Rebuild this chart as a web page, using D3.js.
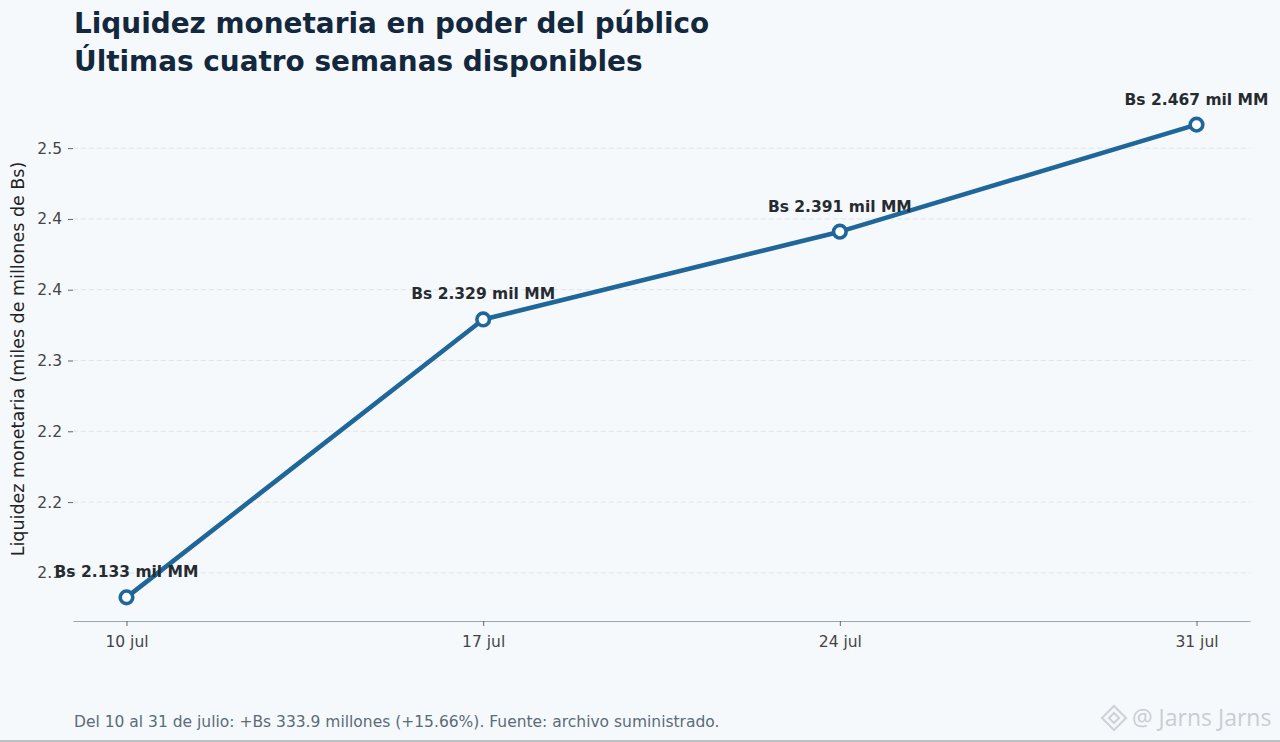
<!DOCTYPE html>
<html>
<head>
<meta charset="utf-8">
<script src="https://cdn.jsdelivr.net/npm/d3@7"></script>
<style>
  html, body { margin: 0; padding: 0; background: #f6f9fc; }
  svg { display: block; font-family: "DejaVu Sans", sans-serif; }
</style>
</head>
<body>
<svg id="chart" width="1280" height="742"></svg>
<script>
// weekly values, miles de millones de Bs
var days = [10, 17, 24, 31],
    dayLabels = ['10 jul', '17 jul', '24 jul', '31 jul'],
    values = [2.1327, 2.329, 2.391, 2.4666],
    pointLabels = ['Bs 2.133 mil MM', 'Bs 2.329 mil MM', 'Bs 2.391 mil MM', 'Bs 2.467 mil MM'],
    yTicks = [2.15, 2.20, 2.25, 2.30, 2.35, 2.40, 2.45],
    yTickLabels = ['2.1', '2.2', '2.2', '2.3', '2.4', '2.4', '2.5'];

var titleLines = ['Liquidez monetaria en poder del público', 'Últimas cuatro semanas disponibles'],
    yTitle = 'Liquidez monetaria (miles de millones de Bs)',
    footer = 'Del 10 al 31 de julio: +Bs 333.9 millones (+15.66%). Fuente: archivo suministrado.';

var svg = d3.select('#chart'),
    plotLeft = 73, plotRight = 1250, plotTop = 101, plotBottom = 621,
    lineColor = '#1f6699';

svg.append('rect').attr('width', 1280).attr('height', 742).attr('fill', '#f6f9fc');

// matplotlib-like 5% margins
var xPad = (d3.max(days) - d3.min(days)) * 0.05,
    yPad = (d3.max(values) - d3.min(values)) * 0.05;

var x = d3.scaleLinear()
    .domain([d3.min(days) - xPad, d3.max(days) + xPad])
    .range([plotLeft, plotRight]);

var y = d3.scaleLinear()
    .domain([d3.min(values) - yPad, d3.max(values) + yPad])
    .range([plotBottom, plotTop]);

// title
svg.append('g').selectAll('text')
    .data(titleLines)
  .enter().append('text')
    .attr('x', 74)
    .attr('y', function(d, i) { return 33 + i * 38; })
    .attr('fill', '#13283c')
    .attr('font-size', 27.9)
    .attr('font-weight', 'bold')
    .text(function(d) { return d; });

// grid
svg.append('g').selectAll('line')
    .data(yTicks)
  .enter().append('line')
    .attr('x1', plotLeft).attr('x2', plotRight)
    .attr('y1', y).attr('y2', y)
    .attr('stroke', '#dce2e9')
    .attr('stroke-width', 0.9)
    .attr('stroke-dasharray', '5,3');

// y axis (no spine)
var yAxis = svg.append('g')
    .attr('transform', 'translate(' + plotLeft + ',0)')
    .call(d3.axisLeft(y).tickValues(yTicks)
      .tickFormat(function(d, i) { return yTickLabels[i]; })
      .tickSize(5).tickPadding(6));
yAxis.attr('font-size', 15.5).attr('font-family', '"DejaVu Sans", sans-serif');
yAxis.select('.domain').remove();
yAxis.selectAll('line').attr('stroke', '#555').attr('stroke-width', 0.9);
yAxis.selectAll('text').attr('fill', '#444');

// x axis
var xAxis = svg.append('g')
    .attr('transform', 'translate(0,' + plotBottom + ')')
    .call(d3.axisBottom(x).tickValues(days)
      .tickFormat(function(d, i) { return dayLabels[i]; })
      .tickSize(5).tickSizeOuter(0).tickPadding(10));
xAxis.attr('font-size', 15.5).attr('font-family', '"DejaVu Sans", sans-serif');
xAxis.select('.domain').attr('stroke', '#9aa6b2').attr('stroke-width', 1.1);
xAxis.selectAll('line').attr('stroke', '#555').attr('stroke-width', 0.9);
xAxis.selectAll('text').attr('fill', '#444');

// y title
svg.append('text')
    .attr('transform', 'translate(24,' + ((plotTop + plotBottom) / 2 - 2) + ') rotate(-90)')
    .attr('text-anchor', 'middle')
    .attr('fill', '#222')
    .attr('font-size', 17.5)
    .text(yTitle);

var pts = days.map(function(d, i) { return {day: d, value: values[i], label: pointLabels[i]}; });

var line = d3.line()
    .x(function(d) { return x(d.day); })
    .y(function(d) { return y(d.value); });

svg.append('path')
    .datum(pts)
    .attr('d', line)
    .attr('fill', 'none')
    .attr('stroke', lineColor)
    .attr('stroke-width', 4.6)
    .attr('stroke-linejoin', 'round');

svg.append('g').selectAll('circle')
    .data(pts)
  .enter().append('circle')
    .attr('cx', function(d) { return x(d.day); })
    .attr('cy', function(d) { return y(d.value); })
    .attr('r', 6.3)
    .attr('fill', '#fff')
    .attr('stroke', lineColor)
    .attr('stroke-width', 3.6);

svg.append('g').selectAll('text')
    .data(pts)
  .enter().append('text')
    .attr('x', function(d) { return x(d.day); })
    .attr('y', function(d) { return y(d.value) - 20; })
    .attr('text-anchor', 'middle')
    .attr('fill', '#262b30')
    .attr('font-size', 15.5)
    .attr('font-weight', 'bold')
    .text(function(d) { return d.label; });

// footer
svg.append('text')
    .attr('x', 74).attr('y', 727)
    .attr('fill', '#5b6b78')
    .attr('font-size', 15.5)
    .text(footer);

// watermark
var wm = svg.append('g').attr('transform', 'translate(1114,718)');
wm.append('path')
    .attr('d', 'M0,-12 L12,0 L0,12 L-12,0 Z M0,-5 L5,0 L0,5 L-5,0 Z')
    .attr('fill', 'none').attr('stroke', '#cfd3d8').attr('stroke-width', 2.2);
wm.append('text')
    .attr('x', 18).attr('y', 8)
    .attr('fill', '#c9cdd2')
    .attr('font-size', 23)
    .attr('font-family', '"Open Sans", sans-serif')
    .text('@ Jarns Jarns');

svg.append('line')
    .attr('x1', 0).attr('x2', 1280).attr('y1', 741).attr('y2', 741)
    .attr('stroke', '#a8aeb4').attr('stroke-width', 1.5);
</script>
</body>
</html>
